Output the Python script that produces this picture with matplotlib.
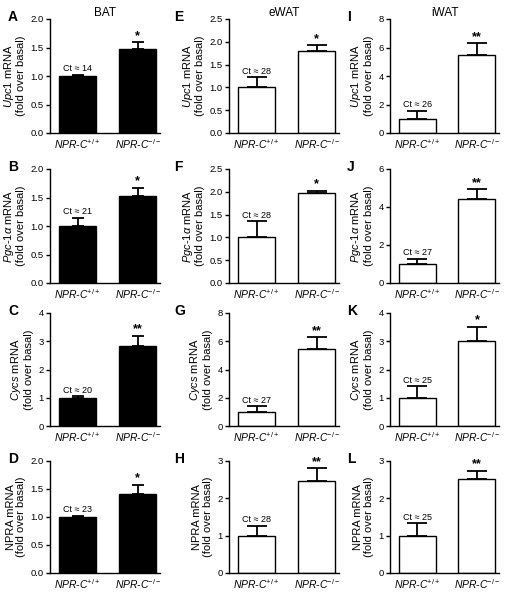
import matplotlib
matplotlib.use('Agg')
import matplotlib.pyplot as plt

plt.rcParams['font.family'] = ['Liberation Sans', 'DejaVu Sans']
plt.rcParams['mathtext.fontset'] = 'custom'
plt.rcParams['mathtext.rm'] = 'Liberation Sans'
plt.rcParams['mathtext.it'] = 'Liberation Sans:italic'

tissues = ['BAT', 'eWAT', 'iWAT']
genes = [r'$\it{Upc1}$', r'$\it{Pgc}$-$\it{1\alpha}$', r'$\it{Cycs}$', 'NPRA']
letters = [['A', 'B', 'C', 'D'], ['E', 'F', 'G', 'H'], ['I', 'J', 'K', 'L']]
groups = [r'NPR-C$^{+/+}$', r'NPR-C$^{-/-}$']

# fold over basal, per tissue (rows: Upc1, Pgc-1a, Cycs, NPRA)
wt_mean = [[1.0, 1.0, 1.0, 1.0], [1.0, 1.0, 1.0, 1.0], [1.0, 1.0, 1.0, 1.0]]
wt_err = [[0.02, 0.14, 0.05, 0.02], [0.22, 0.35, 0.40, 0.27], [0.55, 0.28, 0.40, 0.33]]
ko_mean = [[1.47, 1.52, 2.83, 1.41], [1.79, 1.97, 5.43, 2.47], [5.50, 4.40, 3.00, 2.52]]
ko_err = [[0.12, 0.15, 0.36, 0.16], [0.13, 0.05, 0.85, 0.33], [0.80, 0.53, 0.50, 0.22]]
ct_values = [[14, 21, 20, 23], [28, 28, 27, 28], [26, 27, 25, 25]]
stars = [['*', '*', '**', '*'], ['*', '*', '**', '**'], ['**', '**', '*', '**']]
ymax = [[2.0, 2.0, 4, 2.0], [2.5, 2.5, 8, 3], [8, 6, 4, 3]]
ystep = [[0.5, 0.5, 1, 0.5], [0.5, 0.5, 2, 1], [2, 2, 1, 1]]

W, H = 509, 594
fig = plt.figure(figsize=(W / 100, H / 100), dpi=100)

col_left = [50, 229, 390]
col_right = [160, 339, 499]
row_top = [19, 169, 313, 461]
row_bot = [133, 283, 426, 573]
letter_x = [8, 174, 347]
bar_colors = ['black', 'white']

for c in range(3):
    for r in range(4):
        ax = fig.add_axes([col_left[c] / W, 1 - row_bot[r] / H,
                           (col_right[c] - col_left[c]) / W, (row_bot[r] - row_top[r]) / H])
        means = [wt_mean[c][r], ko_mean[c][r]]
        errs = [wt_err[c][r], ko_err[c][r]]
        fc = 'black' if c == 0 else 'white'
        ax.bar([0, 1], means, width=0.62, color=fc, edgecolor='black', linewidth=1.0, zorder=2)
        ax.errorbar([0, 1], means, yerr=[[0, 0], errs], fmt='none', ecolor='black',
                    elinewidth=1.3, capsize=4.5 if c == 0 else 7, capthick=1.3, zorder=1)
        top = ymax[c][r]
        ax.set_ylim(0, top)
        ax.set_xlim(-0.46, 1.37)
        n = int(round(top / ystep[c][r]))
        ticks = [i * ystep[c][r] for i in range(n + 1)]
        ax.set_yticks(ticks)
        if ystep[c][r] < 1:
            ax.set_yticklabels([f'{t:.1f}' for t in ticks])
        else:
            ax.set_yticklabels([f'{t:g}' for t in ticks])
        ax.set_xticks([0, 1])
        ax.set_xticklabels(groups, fontsize=7.5, style='italic')
        ax.tick_params(axis='x', length=0, pad=3)
        ax.tick_params(axis='y', length=3, width=1, labelsize=6.8, pad=1.5)
        for s in ['top', 'right']:
            ax.spines[s].set_visible(False)
        for s in ['left', 'bottom']:
            ax.spines[s].set_linewidth(1.0)
        ax.set_ylabel(genes[r] + ' mRNA\n(fold over basal)', fontsize=8, labelpad=3,
                      linespacing=1.1)
        off = top * 0.015
        ax.text(0, means[0] + errs[0] + off, 'Ct \u2248 ' + str(ct_values[c][r]),
                ha='center', va='bottom', fontsize=6.5)
        ax.text(1, means[1] + errs[1] + off * 0.3, stars[c][r], ha='center', va='bottom',
                fontsize=9, fontweight='bold')
        fig.text(letter_x[c] / W, 1 - (row_top[r] - 2) / H, letters[c][r], ha='left',
                 va='center', fontsize=10, fontweight='bold')
        if r == 0:
            ax.set_title(tissues[c], fontsize=8.5, pad=2)

fig.savefig('out.png', dpi=100)
